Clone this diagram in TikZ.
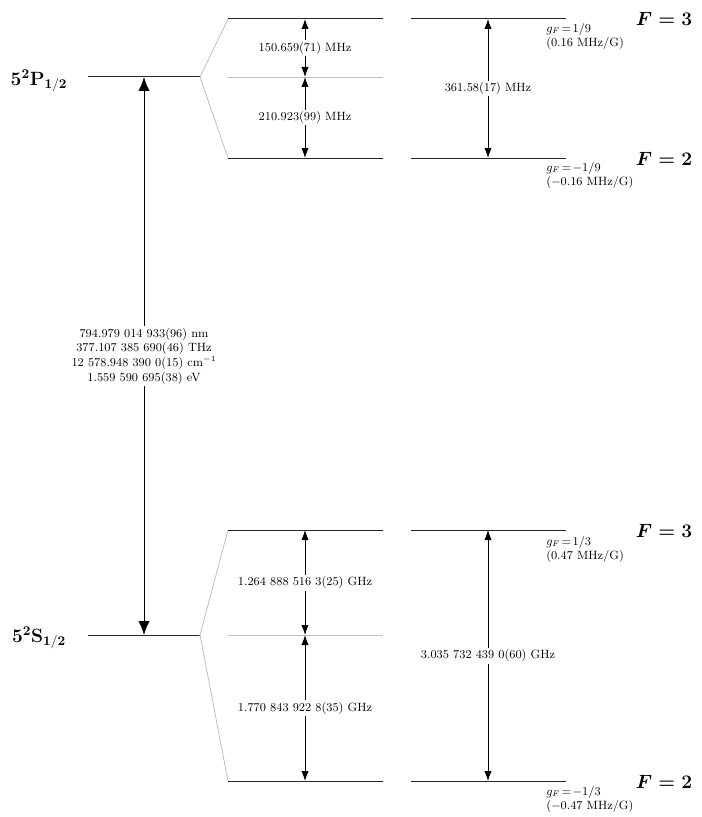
\documentclass[tikz,border=0pt]{standalone}
\usepackage{amsmath}
\usetikzlibrary{arrows.meta}
\begin{document}
\begin{tikzpicture}[x=0.75pt,y=-0.75pt,
  level/.style={line width=0.75pt,black!85},
  fan/.style={black!25,line width=0.6pt},
  gap/.style={{Latex[length=7.5pt,width=5.5pt]}-{Latex[length=7.5pt,width=5.5pt]},line width=0.7pt},
  opt/.style={{Latex[length=10.5pt,width=8.5pt]}-{Latex[length=10.5pt,width=8.5pt]},line width=0.7pt},
  val/.style={fill=white,inner sep=1.5pt,font=\small,align=center},
  gf/.style={anchor=north west,font=\small,align=left,inner sep=0pt},
  fname/.style={anchor=base,font=\Large},
  term/.style={anchor=base,font=\Large}]
\useasboundingbox (0,0) rectangle (702,817);

% ---------------- 5^2P_{1/2} ----------------
\coordinate (P-l) at (88,77);   \coordinate (P-r) at (200,77);
\coordinate (P3-l) at (228,19); \coordinate (P3-r) at (383,19);
\coordinate (Pc-l) at (228,77); \coordinate (Pc-r) at (383,77);
\coordinate (P2-l) at (228,158);\coordinate (P2-r) at (383,158);
\coordinate (P3b-l) at (411,19); \coordinate (P3b-r) at (566,19);
\coordinate (P2b-l) at (411,158);\coordinate (P2b-r) at (566,158);

\draw[level] (P-l) -- (P-r);
\draw[fan] (P3-l) -- (P-r) -- (P2-l);
\draw[fan] (Pc-l) -- (Pc-r);
\draw[level] (P3-l) -- (P3-r);
\draw[level] (P2-l) -- (P2-r);
\draw[level] (P3b-l) -- (P3b-r);
\draw[level] (P2b-l) -- (P2b-r);

\node[term] (Pterm) at (39,85) {$\mathbf{5^2P_{1/2}}$};

\coordinate (pa1) at (305,19); \coordinate (pa2) at (305,77); \coordinate (pa3) at (305,158);
\draw[gap] (pa1) -- node[val] (pv1) {150.659(71) MHz} (pa2);
\draw[gap] (pa2) -- node[val] (pv2) {210.923(99) MHz} (pa3);
\coordinate (pb1) at (488,19); \coordinate (pb2) at (488,158);
\draw[gap] (pb1) -- node[val] (pv3) {361.58(17) MHz} (pb2);

\node[gf] (pg3) at (546,23) {$g_F\!=\!1/9$\\(0.16 MHz/G)};
\node[gf] (pg2) at (546,162) {$g_F\!=\!-1/9$\\($-$0.16 MHz/G)};
\node[fname] (pf3) at (664,26) {$\boldsymbol{F=3}$};
\node[fname] (pf2) at (664,165) {$\boldsymbol{F=2}$};

% ---------------- 5^2S_{1/2} ----------------
\coordinate (S-l) at (88,635);   \coordinate (S-r) at (200,635);
\coordinate (S3-l) at (228,530); \coordinate (S3-r) at (383,530);
\coordinate (Sc-l) at (228,635); \coordinate (Sc-r) at (383,635);
\coordinate (S2-l) at (228,781); \coordinate (S2-r) at (383,781);
\coordinate (S3b-l) at (411,530); \coordinate (S3b-r) at (566,530);
\coordinate (S2b-l) at (411,781); \coordinate (S2b-r) at (566,781);

\draw[level] (S-l) -- (S-r);
\draw[fan] (S3-l) -- (S-r) -- (S2-l);
\draw[fan] (Sc-l) -- (Sc-r);
\draw[level] (S3-l) -- (S3-r);
\draw[level] (S2-l) -- (S2-r);
\draw[level] (S3b-l) -- (S3b-r);
\draw[level] (S2b-l) -- (S2b-r);

\node[term] (Sterm) at (39,642) {$\mathbf{5^2S_{1/2}}$};

\coordinate (sa1) at (305,530); \coordinate (sa2) at (305,635); \coordinate (sa3) at (305,781);
\draw[gap] (sa1) -- node[val] (sv1) {1.264 888 516 3(25) GHz} (sa2);
\draw[gap] (sa2) -- node[val] (sv2) {1.770 843 922 8(35) GHz} (sa3);
\coordinate (sb1) at (488,530); \coordinate (sb2) at (488,781);
\draw[gap] (sb1) -- node[val] (sv3) {3.035 732 439 0(60) GHz} (sb2);

\node[gf] (sg3) at (546,536) {$g_F\!=\!1/3$\\(0.47 MHz/G)};
\node[gf] (sg2) at (546,786) {$g_F\!=\!-1/3$\\($-$0.47 MHz/G)};
\node[fname] (sf3) at (664,537) {$\boldsymbol{F=3}$};
\node[fname] (sf2) at (664,788) {$\boldsymbol{F=2}$};

% ---------------- D1 optical transition ----------------
\coordinate (m1) at (144,77); \coordinate (m2) at (144,635);
\draw[opt] (m1) -- node[val] (mv) {794.979 014 933(96) nm\\377.107 385 690(46) THz\\12 578.948 390 0(15) cm$^{-1}$\\1.559 590 695(38) eV} (m2);
\end{tikzpicture}
\end{document}
